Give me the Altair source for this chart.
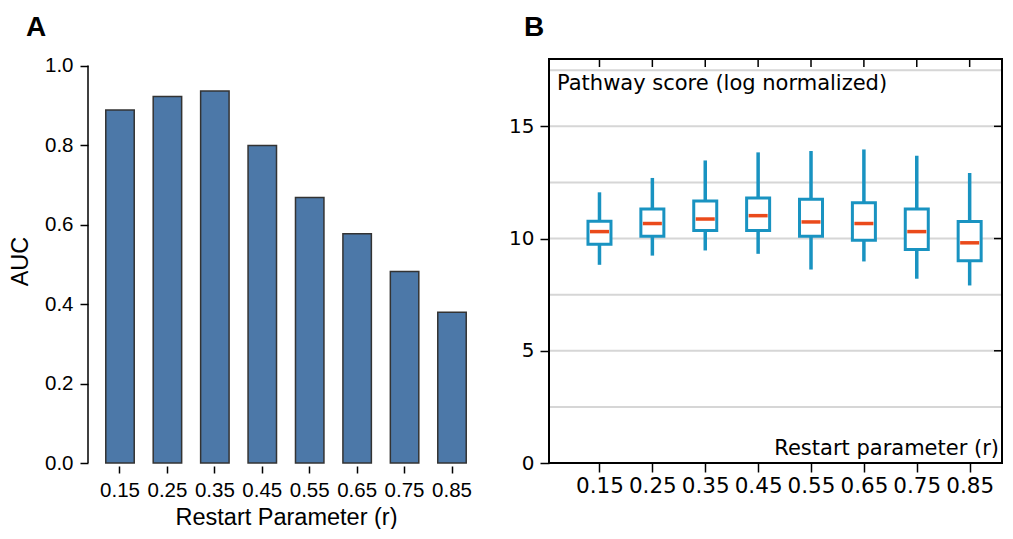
import altair as alt
import pandas as pd

# ---------------- data ----------------
r_labels = ["0.15", "0.25", "0.35", "0.45", "0.55", "0.65", "0.75", "0.85"]
r_values = [0.15, 0.25, 0.35, 0.45, 0.55, 0.65, 0.75, 0.85]
auc = [0.888, 0.922, 0.936, 0.799, 0.668, 0.577, 0.482, 0.379]

whisker_low = [8.83, 9.24, 9.47, 9.32, 8.62, 8.98, 8.21, 7.91]
q1 = [9.75, 10.10, 10.36, 10.36, 10.10, 9.93, 9.51, 9.01]
median = [10.31, 10.67, 10.87, 11.02, 10.74, 10.67, 10.31, 9.81]
q3 = [10.77, 11.32, 11.67, 11.81, 11.75, 11.60, 11.32, 10.76]
whisker_high = [12.06, 12.70, 13.48, 13.84, 13.90, 13.97, 13.69, 12.92]

auc_ticks = [0.0, 0.2, 0.4, 0.6, 0.8, 1.0]
score_ticks = [0, 5, 10, 15]
score_grid = [0, 2.5, 5, 7.5, 10, 12.5, 15, 17.5]

# ---------------- styles ----------------
H = 404
A_W = 380
B_W = 453
FA = "Liberation Sans"
FB = "DejaVu Sans"
BLUE = "#1993c1"
ORANGE = "#ea4a1b"

# ---------------- panel A ----------------
dfA = pd.DataFrame({"r": r_labels, "auc": auc})
yscaleA = alt.Scale(domain=[0, 1.0165], nice=False)
axisYA = alt.Axis(values=auc_ticks, format=".1f", domain=False, offset=8, tickSize=8,
                  tickWidth=1.5, tickColor="black", grid=False, labelFont=FA,
                  labelFontSize=20.5, labelColor="black", labelPadding=7, titleFont=FA,
                  titleFontSize=23.5, titleFontWeight="normal", titleColor="black",
                  titlePadding=12)


def yA(field):
    return alt.Y(field, title="AUC", scale=yscaleA, axis=axisYA)


xA = alt.X(
    "r:N", sort=r_labels, title="Restart Parameter (r)",
    scale=alt.Scale(paddingInner=0.4, paddingOuter=0.206),
    axis=alt.Axis(labelAngle=0, domain=False, offset=3, tickSize=7, tickWidth=1.5,
                  tickColor="black", labelFont=FA, labelFontSize=20.5, labelColor="black",
                  labelPadding=7, titleFont=FA, titleFontSize=23.5, titleFontWeight="normal",
                  titleColor="black", titlePadding=5),
)
bars = alt.Chart(dfA).mark_bar(color="#4c78a8", stroke="#333333", strokeWidth=1.5).encode(
    x=xA, y=yA("auc:Q")
)

spineA = alt.Chart(pd.DataFrame({"lo": [auc_ticks[0]], "hi": [auc_ticks[-1]]})).mark_rule(
    color="black", strokeWidth=1.5
).encode(x=alt.value(-8), y=yA("lo:Q"), y2="hi:Q")

labelA = alt.Chart(pd.DataFrame({"t": ["A"]})).mark_text(
    font=FA, fontSize=28, fontWeight="bold", align="left", baseline="alphabetic", color="black"
).encode(text="t:N", x=alt.value(-70), y=alt.value(-23))

panelA = alt.layer(bars, spineA, labelA).properties(width=A_W, height=H)

# ---------------- panel B ----------------
dfB = pd.DataFrame({"r": r_values, "lo": whisker_low, "q1": q1, "med": median,
                    "q3": q3, "hi": whisker_high})
xscaleB = alt.Scale(domain=[0.064, 0.9017], nice=False, zero=False)
yscaleB = alt.Scale(domain=[0, 18], nice=False)
axisXB = alt.Axis(values=r_values, format=".2f", domain=False, grid=False, tickSize=9,
                  tickWidth=1.5, tickColor="black", labelFont=FB, labelFontSize=21.5,
                  labelColor="black", labelPadding=3)
axisYB = alt.Axis(values=score_ticks, format="d", domain=False, grid=False, tickSize=9,
                  tickWidth=1.5, tickColor="black", labelFont=FB, labelFontSize=20,
                  labelColor="black", labelPadding=6)


def xB(field):
    return alt.X(field, scale=xscaleB, title=None, axis=axisXB)


def yB(field):
    return alt.Y(field, scale=yscaleB, title=None, axis=axisYB)


grid = alt.Chart(pd.DataFrame({"g": score_grid})).mark_rule(color="#d6d6d6", strokeWidth=2).encode(
    y=yB("g:Q"), x=alt.value(0), x2=alt.value(B_W)
)
whisk = alt.Chart(dfB).mark_rule(color=BLUE, strokeWidth=3.5).encode(
    x=xB("r:Q"), y=yB("lo:Q"), y2="hi:Q"
)
box = alt.Chart(dfB).mark_bar(fill="white", stroke=BLUE, strokeWidth=3, size=23).encode(
    x=xB("r:Q"), y=yB("q1:Q"), y2="q3:Q"
)
med = alt.Chart(dfB).mark_rule(color=ORANGE, strokeWidth=3.5, xOffset=-9.5, x2Offset=9.5).encode(
    x=xB("r:Q"), x2="r:Q", y=yB("med:Q")
)
frame = alt.Chart(pd.DataFrame({"t": [0]})).mark_rect(fill=None, stroke="black", strokeWidth=2).encode(
    x=alt.value(0), x2=alt.value(B_W), y=alt.value(0), y2=alt.value(H)
)
top_ticks = alt.Chart(pd.DataFrame({"r": r_values})).mark_rule(color="black", strokeWidth=1.5).encode(
    x=xB("r:Q"), y=alt.value(0), y2=alt.value(8)
)
right_ticks = alt.Chart(pd.DataFrame({"v": score_ticks})).mark_rule(color="black", strokeWidth=1.5).encode(
    y=yB("v:Q"), x=alt.value(B_W - 8), x2=alt.value(B_W)
)
ylab = alt.Chart(pd.DataFrame({"t": ["Pathway score (log normalized)"]})).mark_text(
    font=FB, fontSize=21, align="left", baseline="alphabetic", color="black"
).encode(text="t:N", x=alt.value(8), y=alt.value(31))
xlab = alt.Chart(pd.DataFrame({"t": ["Restart parameter (r)"]})).mark_text(
    font=FB, fontSize=21, align="right", baseline="alphabetic", color="black"
).encode(text="t:N", x=alt.value(B_W - 3), y=alt.value(H - 8))
labelB = alt.Chart(pd.DataFrame({"t": ["B"]})).mark_text(
    font=FA, fontSize=28, fontWeight="bold", align="left", baseline="alphabetic", color="black"
).encode(text="t:N", x=alt.value(-25), y=alt.value(-23))

panelB = alt.layer(grid, whisk, box, med, frame, top_ticks, right_ticks, ylab, xlab, labelB).properties(
    width=B_W, height=H
)

chart = alt.hconcat(panelA, panelB, spacing=32).properties(
    padding={"left": 0, "top": 6, "right": 0, "bottom": 0},
    background="white",
).configure_view(stroke="transparent", strokeWidth=0)

chart.save("out.html", embed_options={"renderer": "svg", "actions": False})
